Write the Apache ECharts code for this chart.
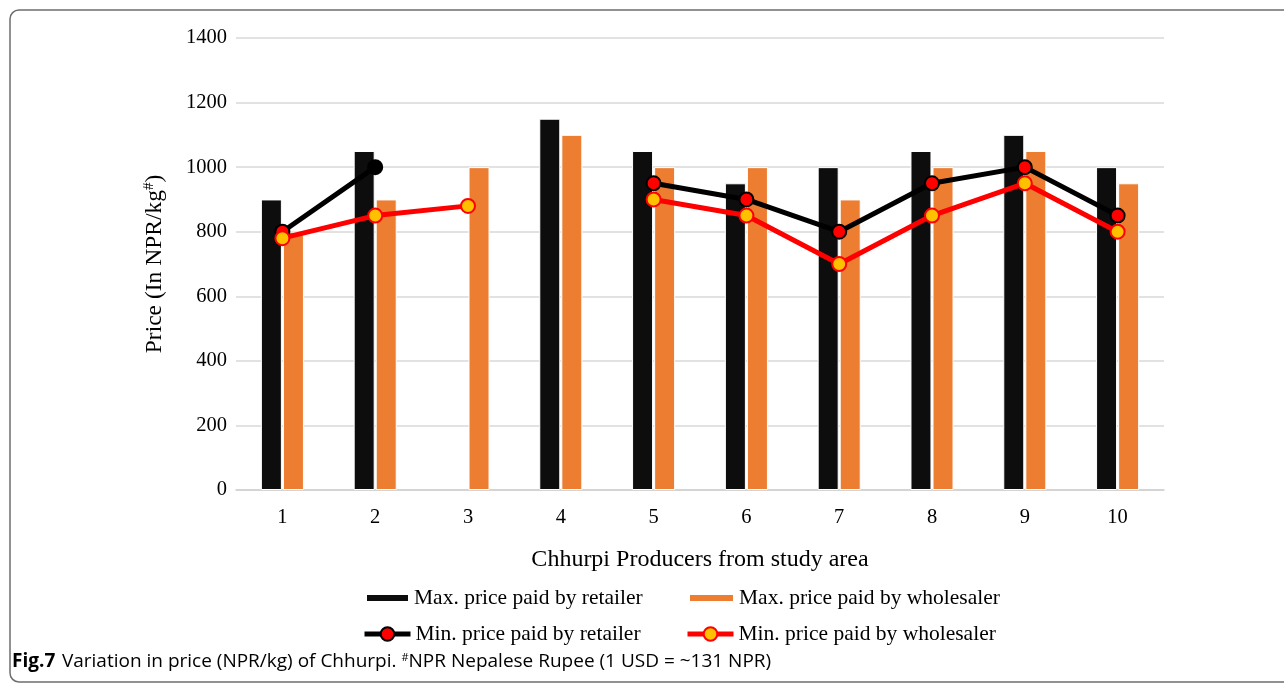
<!DOCTYPE html>
<html><head><meta charset="utf-8">
<script src="https://cdn.jsdelivr.net/npm/echarts@6/dist/echarts.min.js"></script>
<style>html,body{margin:0;padding:0;background:#fff}#c{width:1284px;height:685px}</style>
</head><body><div id="c"></div>
<script>
const categories = ['1','2','3','4','5','6','7','8','9','10'];
const maxRetailer = [900, 1050, null, 1150, 1050, 950, 1000, 1050, 1100, 1000];
const maxWholesaler = [800, 900, 1000, 1100, 1000, 1000, 900, 1000, 1050, 950];
const minRetailer = [800, 1000, null, null, 950, 900, 800, 950, 1000, 850];
const minWholesaler = [780, 850, 880, null, 900, 850, 700, 850, 950, 800];
const yTicks = [0, 200, 400, 600, 800, 1000, 1200, 1400];

const serif = 'Liberation Serif';
const chart = echarts.init(document.getElementById('c'), null, {renderer: 'canvas'});
const legendText = {fontFamily: serif, fontSize: 21.5, color: '#000'};
chart.setOption({
  animation: false,
  grid: {left: 236, right: 120, top: 38, bottom: 195, containLabel: false},
  xAxis: {
    type: 'category', data: categories,
    axisLine: {lineStyle: {color: '#d0d0d0', width: 1.5}},
    axisTick: {show: false},
    axisLabel: {fontFamily: serif, fontSize: 20.5, color: '#000', margin: 17},
    name: 'Chhurpi Producers from study area', nameLocation: 'middle', nameGap: 58,
    nameTextStyle: {fontFamily: serif, fontSize: 24, color: '#000'}
  },
  yAxis: {
    type: 'value', min: yTicks[0], max: yTicks[yTicks.length-1], interval: 200,
    axisLine: {show: false}, axisTick: {show: false},
    splitLine: {lineStyle: {color: '#d9d9d9', width: 1.5}},
    axisLabel: {fontFamily: serif, fontSize: 20.5, color: '#000', margin: 9, formatter: v => String(v)},
    name: '{a|Price (In NPR/kg}{s|#}{a|)}', nameLocation: 'middle', nameGap: 69,
    nameTextStyle: {rich: {a: {fontFamily: serif, fontSize: 23.5, color: '#000'}, s: {fontFamily: serif, fontSize: 15, color: '#000', verticalAlign: 'top', padding: [0,0,10,0]}}}
  },
  legend: [
    {data: [{name: 'Max. price paid by retailer', icon: 'rect'}], left: 365, top: 587, padding: 0, itemWidth: 43, itemHeight: 8, textStyle: legendText},
    {data: [{name: 'Max. price paid by wholesaler', icon: 'rect'}], left: 688, top: 587, padding: 0, itemWidth: 45, itemHeight: 8, textStyle: legendText},
    {data: ['Min. price paid by retailer'], left: 362, top: 623, padding: 0, itemWidth: 46, itemHeight: 17, lineStyle: {width: 5}, textStyle: legendText},
    {data: ['Min. price paid by wholesaler'], left: 685, top: 623, padding: 0, itemWidth: 46, itemHeight: 17, lineStyle: {width: 5}, textStyle: legendText}
  ],
  series: [
    {name: 'Max. price paid by retailer', type: 'bar', data: maxRetailer, barWidth: 21, barGap: '5%',
     itemStyle: {color: '#0d0d0d', borderColor: '#fff', borderWidth: 1}},
    {name: 'Max. price paid by wholesaler', type: 'bar', data: maxWholesaler, barWidth: 21, barGap: '5%',
     itemStyle: {color: '#ed7d31', borderColor: '#fff', borderWidth: 1}},
    {name: 'Min. price paid by retailer', type: 'line', data: minRetailer.map((v,i)=> i===1 ? {value: v, itemStyle: {color: '#000'}} : v),
     symbol: 'circle', symbolSize: 14, connectNulls: false,
     lineStyle: {color: '#000', width: 5}, itemStyle: {color: '#ff0000', borderColor: '#000', borderWidth: 2}, z: 5},
    {name: 'Min. price paid by wholesaler', type: 'line', data: minWholesaler,
     symbol: 'circle', symbolSize: 14, connectNulls: false,
     lineStyle: {color: '#ff0000', width: 5}, itemStyle: {color: '#ffc000', borderColor: '#ff0000', borderWidth: 2}, z: 6}
  ],
  graphic: [
    {type: 'rect', shape: {x: 10, y: 10, width: 1300, height: 672, r: 9}, style: {fill: 'none', stroke: '#6e6e6e', lineWidth: 1.5}, silent: true},
    {type: 'text', left: 12, top: 652, style: {
      text: '{b|Fig.7}  {n|Variation in price (NPR/kg) of Chhurpi. }{s|#}{n|NPR Nepalese Rupee (1 USD = ~131 NPR)}',
      rich: {
        b: {fontFamily: 'Open Sans', fontWeight: 'bold', fontSize: 19, color: '#000'},
        n: {fontFamily: 'Open Sans', fontSize: 19, color: '#000'},
        s: {fontFamily: 'Open Sans', fontSize: 11, color: '#000', verticalAlign: 'top', padding: [0,0,9,0]}
      }
    }}
  ]
});
</script></body></html>
